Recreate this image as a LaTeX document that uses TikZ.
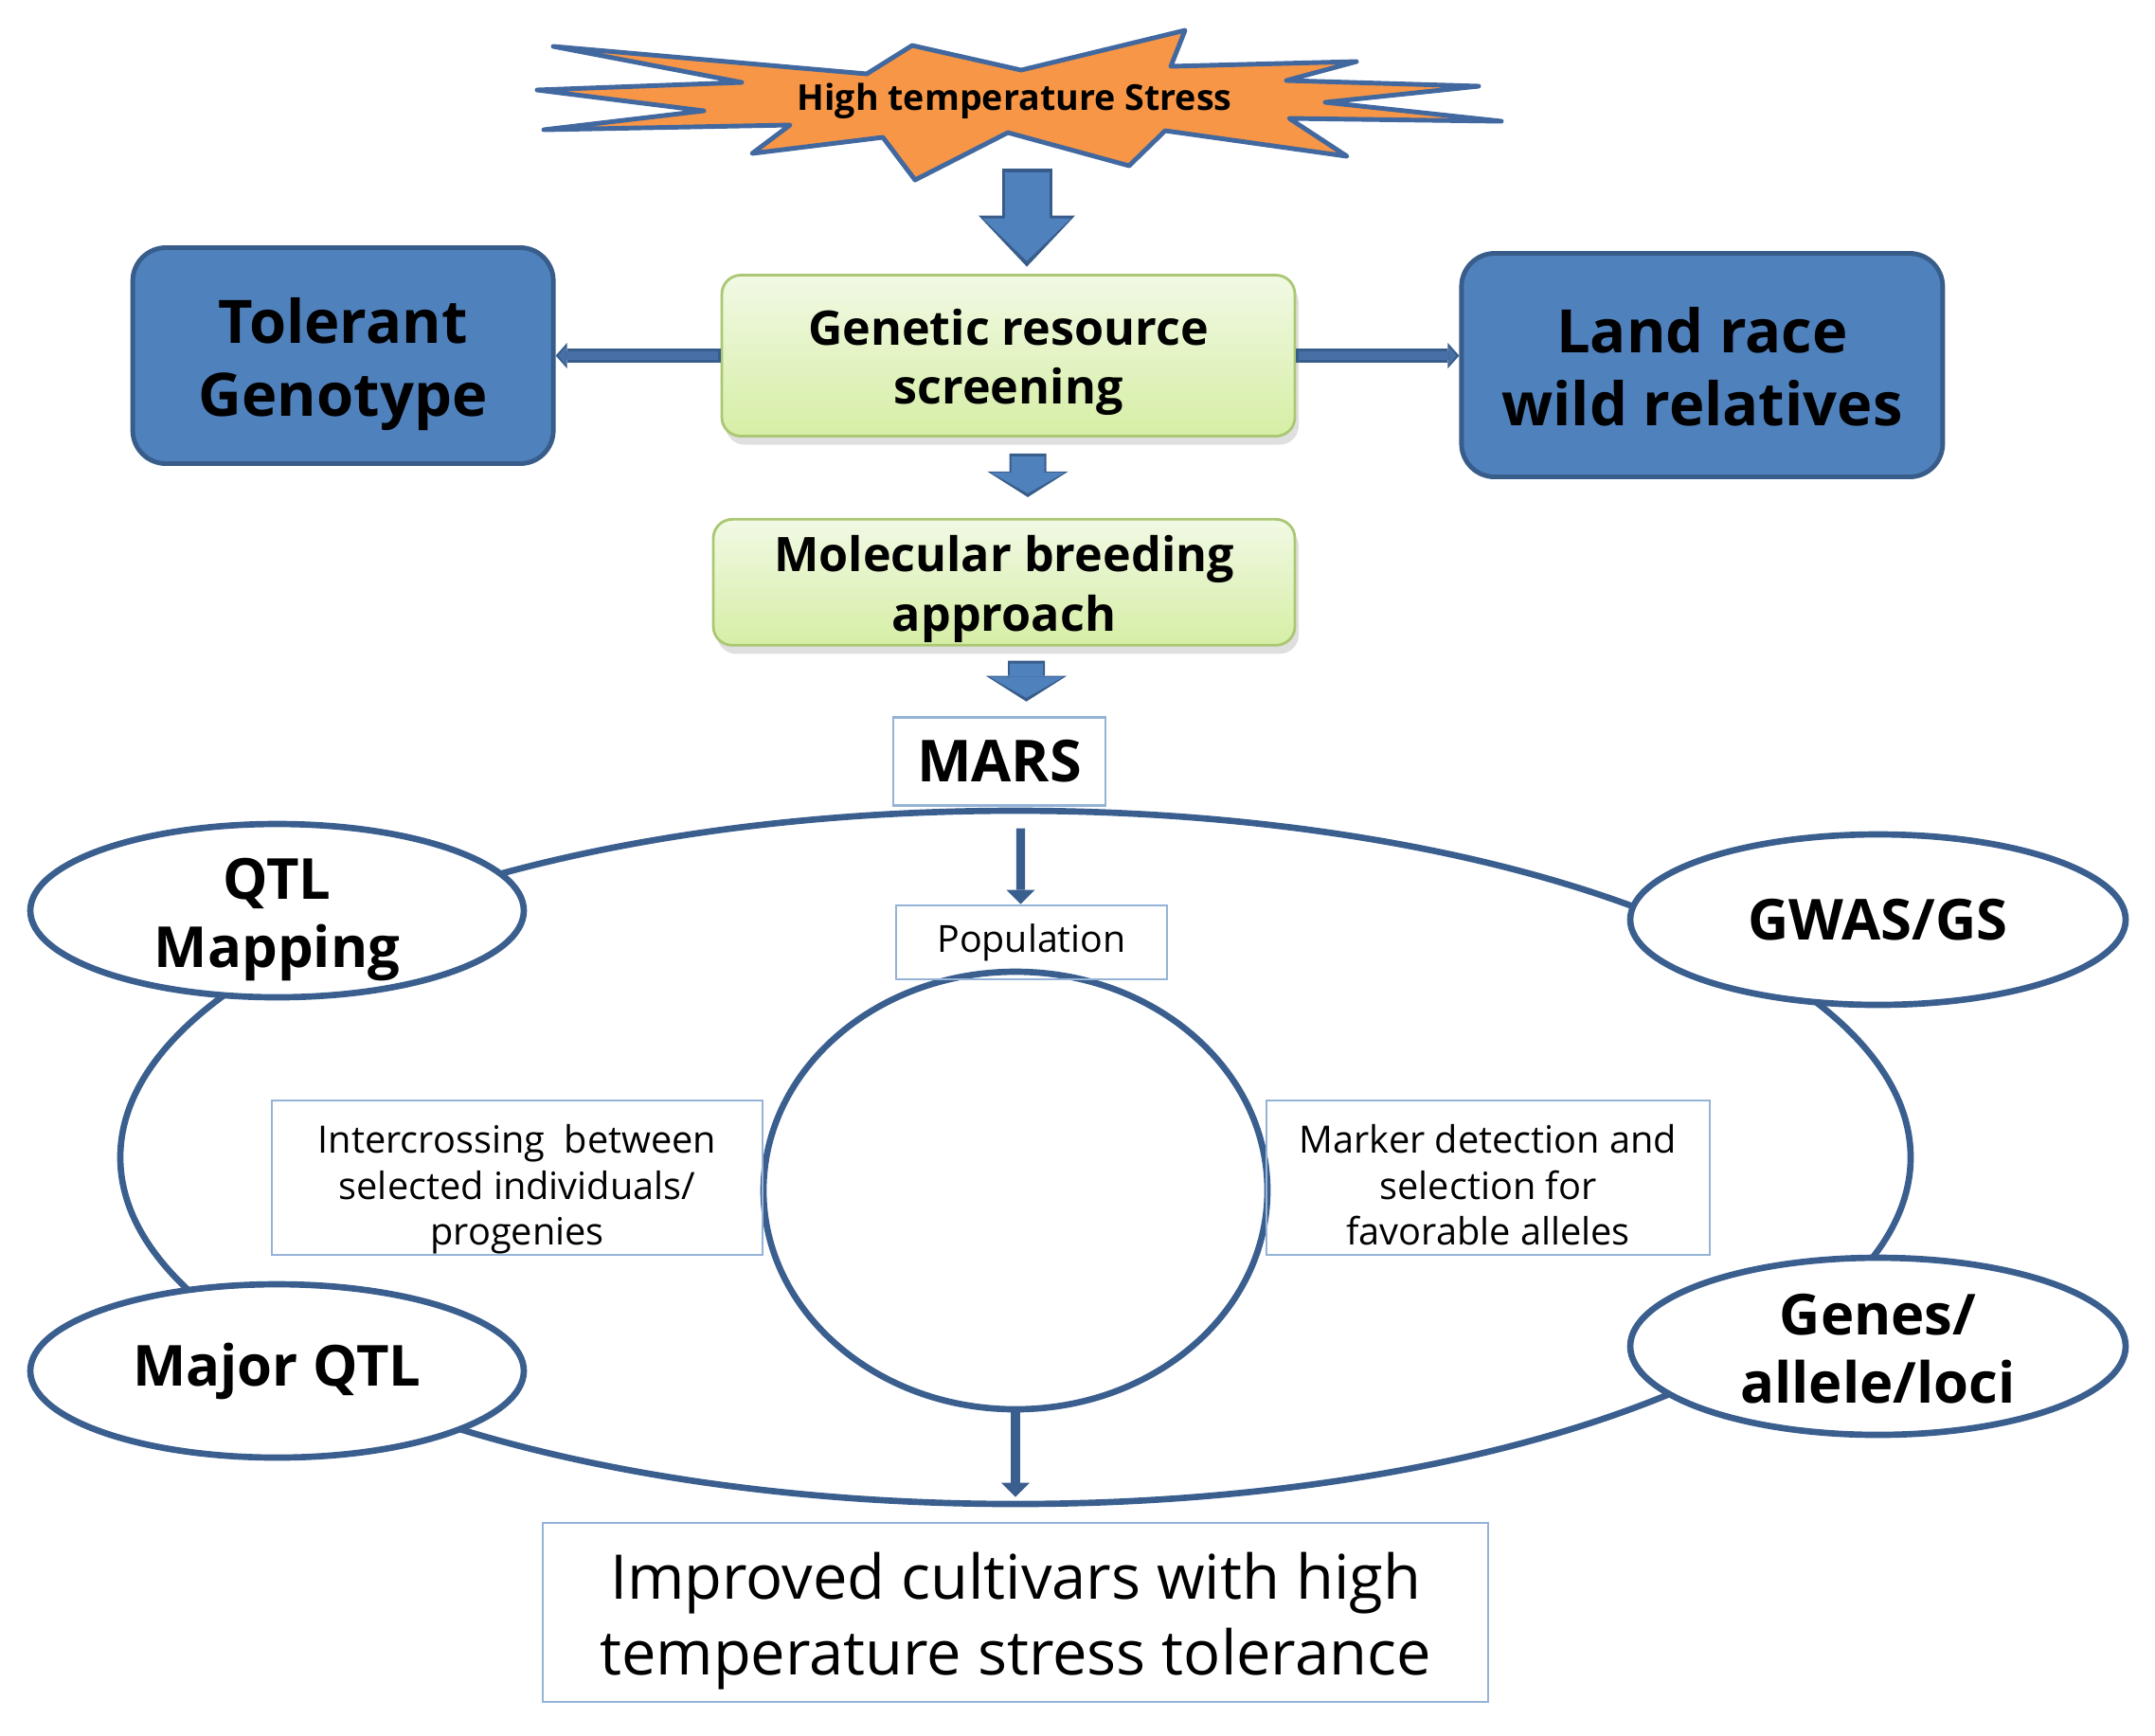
\documentclass[tikz,border=0pt]{standalone}
\usepackage{fontspec}
\setmainfont{Open Sans}
\usepackage{tikz}
\usetikzlibrary{arrows.meta, positioning, shapes.geometric, shadows}
\definecolor{blockBlue}{RGB}{79,129,189}
\definecolor{blockEdge}{RGB}{56,93,138}
\definecolor{sideBlue}{RGB}{72,112,166}
\definecolor{ringBlue}{RGB}{58,95,143}
\definecolor{starOrange}{RGB}{247,150,70}
\definecolor{starEdge}{RGB}{66,104,160}
\definecolor{greenTop}{RGB}{241,249,228}
\definecolor{greenBottom}{RGB}{214,238,165}
\definecolor{greenEdge}{RGB}{170,200,115}
\definecolor{paleEdge}{RGB}{149,179,215}
\newcommand{\hitop}[1][1.05em]{\rule{0pt}{#1}}
\newcommand{\lobot}{\rule[-0.25em]{0pt}{0.25em}}

\begin{document}
\begin{tikzpicture}[
      >={Triangle[width=3mm, length=1.5mm, line width=0pt]},
      bigbox/.style={rectangle, rounded corners=3.5mm, draw=blockEdge, line width=1.4pt, fill=blockBlue,
        align=center, inner sep=0pt, font=\fontsize{18}{22}\selectfont\bfseries},
      greenbox/.style={rectangle, rounded corners=2mm, draw=greenEdge, line width=0.8pt, top color=greenTop,
        bottom color=greenBottom, drop shadow={opacity=0.25, shadow xshift=0.4mm, shadow yshift=-0.9mm},
        align=center, inner sep=0pt, font=\fontsize{14.3}{17.8}\selectfont\bfseries},
      palebox/.style={rectangle, draw=paleEdge, line width=0.8pt, align=center, inner sep=0pt},
      ring/.style={ellipse, draw=ringBlue, line width=1.9pt, inner sep=0pt},
      oval/.style={ellipse, draw=ringBlue, line width=1.9pt, fill=white, minimum width=5.21cm, minimum height=1.83cm,
        inner xsep=0pt, inner ysep=-0.2cm, align=center, font=\fontsize{17}{20.6}\selectfont\bfseries},
      starshape/.style={draw=starEdge, fill=starOrange, line width=1.4pt, line join=round},
      thinarrow/.style={->, draw=ringBlue, line width=2.6pt},
      bigarrow/.style={draw=blockBlue, line width=4.7mm, -{Triangle[width=9.3mm, length=4.5mm, line width=0pt]},
        shorten >=0.6mm, shorten <=0.4mm,
        preaction={draw=blockEdge, line width=5.3mm, -{Triangle[width=10.2mm, length=5.4mm, line width=0pt]},
          shorten >=0pt, shorten <=0pt}},
      midarrow/.style={draw=blockBlue, line width=3.5mm, -{Triangle[width=7.8mm, length=2.2mm, line width=0pt]},
        shorten >=0.4mm, shorten <=0.3mm,
        preaction={draw=blockEdge, line width=3.9mm, -{Triangle[width=8.5mm, length=2.7mm, line width=0pt]},
          shorten >=0pt, shorten <=0pt}},
      sidearrow/.style={draw=sideBlue, line width=0.9mm, -{Triangle[width=2.0mm, length=0.8mm, line width=0pt]},
        shorten >=0.3mm, shorten <=0.3mm,
        preaction={draw=blockEdge, line width=1.5mm, -{Triangle[width=2.7mm, length=1.2mm, line width=0pt]},
          shorten >=0pt, shorten <=0pt}}]
    \useasboundingbox (0,0) rectangle (22.75,-18.32);
    \draw[starshape] (5.84,-0.49) -- (9.15,-0.78) -- (9.63,-0.48) -- (10.78,-0.74) -- (12.51,-0.32) -- (12.36,-0.70)
      -- (14.32,-0.65) -- (13.58,-0.85) -- (15.61,-0.91) -- (13.99,-1.08) -- (15.85,-1.28) -- (13.61,-1.25)
      -- (14.22,-1.65) -- (12.30,-1.38) -- (11.92,-1.75) -- (10.64,-1.40) -- (9.66,-1.90) -- (9.32,-1.45)
      -- (7.94,-1.62) -- (8.34,-1.32) -- (5.74,-1.37) -- (7.43,-1.17) -- (5.67,-0.95) -- (7.83,-0.87) -- cycle;
    \node[font=\fontsize{10.7}{13}\selectfont\bfseries] (hs) at (10.71,-1.07) {High temperature Stress};
    \coordinate (hsbase) at (10.84,-1.78);
    \node[greenbox, minimum width=6.05cm, minimum height=1.70cm] (gr) at (10.645,-3.755) {\hitop Genetic resource\\screening\lobot};
    \node[bigbox, minimum width=4.44cm, minimum height=2.28cm, left=1.74cm of gr] (tg) {\hitop Tolerant\\Genotype\lobot};
    \node[bigbox, minimum width=5.08cm, minimum height=2.36cm, right=1.72cm of gr, yshift=-0.1cm] (lr) {\hitop Land race\\wild relatives\lobot};
    \node[greenbox, minimum width=6.14cm, minimum height=1.33cm, below=0.85cm of gr, xshift=-0.045cm] (mb) {\hitop Molecular breeding\\approach\lobot};
    \node[palebox, minimum width=2.24cm, minimum height=0.93cm, below=0.73cm of mb, xshift=-0.05cm,
      font=\fontsize{17.4}{20}\selectfont\bfseries] (mars) {MARS};
    \node[ring, minimum width=18.9cm, minimum height=7.32cm] (cyc) at (10.72,-12.22) {};
    \node[ring, minimum width=5.32cm, minimum height=4.62cm] (core) at (10.72,-12.57) {};
    \node[oval] (qtl) at (2.925,-9.615) {\hitop QTL\\Mapping\lobot};
    \node[oval, minimum width=5.23cm, minimum height=1.80cm] (gw) at (19.825,-9.71) {GWAS/GS};
    \node[oval] (mq) at (2.925,-14.475) {Major QTL};
    \node[oval, minimum width=5.23cm, minimum height=1.87cm] (gal) at (19.825,-14.215) {\hitop Genes/\\allele/loci\lobot};
    \node[palebox, minimum width=2.86cm, minimum height=0.78cm, font=\fontsize{11.2}{13.5}\selectfont] (pop) at (10.89,-9.95) {Population};
    \node[palebox, minimum width=5.18cm, minimum height=1.63cm, font=\fontsize{11.3}{13.8}\selectfont] (ic) at (5.46,-12.435)
      {\hitop[1.4em]Intercrossing\ \ between\\selected individuals/\\progenies\lobot};
    \node[palebox, minimum width=4.68cm, minimum height=1.63cm, font=\fontsize{11.3}{13.8}\selectfont] (md) at (15.71,-12.435)
      {\hitop[1.4em]Marker detection and\\selection for\\favorable alleles\lobot};
    \node[palebox, minimum width=9.98cm, minimum height=1.89cm, font=\fontsize{18.5}{22.7}\selectfont] (imp) at (10.72,-17.025)
      {\hitop Improved cultivars with high\\temperature stress tolerance\lobot};
    \draw[bigarrow] (hsbase) -- ([yshift=0.75mm]hsbase |- gr.north);
    \draw[sidearrow] (gr.west) -- (gr.west -| tg.east); \draw[sidearrow] (gr.east) -- (gr.east -| lr.west);
    \draw[midarrow] ([xshift=2.05mm,yshift=-1.7mm]gr.south) -- ([xshift=2.5mm,yshift=2.2mm]mb.north);
    \draw[midarrow] ([xshift=2.35mm,yshift=-1.5mm]mb.south) -- ([xshift=2.85mm,yshift=1.5mm]mars.north);
    \draw[thinarrow] ([xshift=2.25mm,yshift=-2.3mm]mars.south) -- ([xshift=-1.15mm]pop.north);
    \draw[thinarrow] (core.south) -- ([yshift=2.6mm]imp.north);
  \end{tikzpicture}
\end{document}
